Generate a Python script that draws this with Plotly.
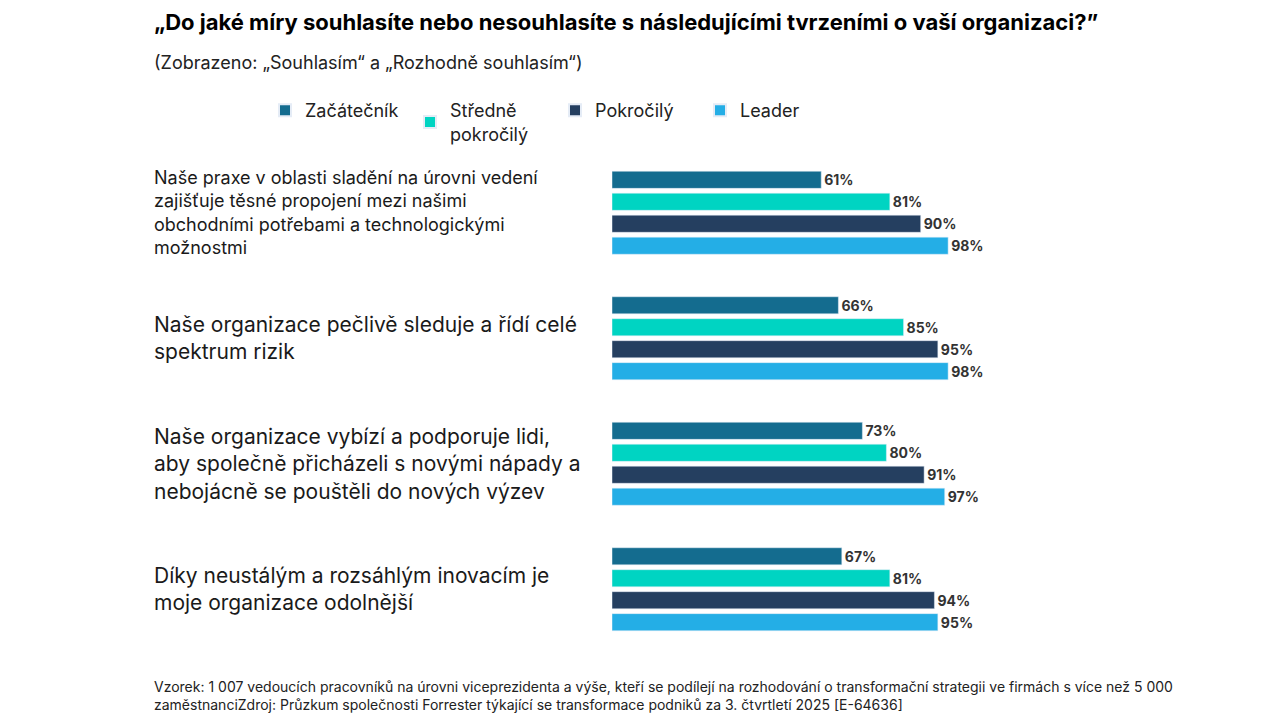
import plotly.graph_objects as go

categories = [
    "Naše praxe v oblasti sladění na úrovni vedení<br>zajišťuje těsné propojení mezi našimi<br>obchodními potřebami a technologickými<br>možnostmi",
    "Naše organizace pečlivě sleduje a řídí celé<br>spektrum rizik",
    "Naše organizace vybízí a podporuje lidi,<br>aby společně přicházeli s novými nápady a<br>nebojácně se pouštěli do nových výzev",
    "Díky neustálým a rozsáhlým inovacím je<br>moje organizace odolnější",
]
label_sizes = [18, 21, 21, 21]
series_names = ["Začátečník", "Středně<br>pokročilý", "Pokročilý", "Leader"]
series_values = [
    [61, 66, 73, 67],
    [81, 85, 80, 81],
    [90, 95, 91, 94],
    [98, 98, 97, 95],
]
colors = ["#146c8f", "#00d4c2", "#253f60", "#24aee6"]

W, H = 1280, 720
OX, OY = 8, 8
cat_ids = ["c0", "c1", "c2", "c3"]
fig = go.Figure()
for name, vals, col in zip(series_names, series_values, colors):
    fig.add_trace(go.Bar(
        y=cat_ids, x=vals, name=name, orientation="h", marker_color=col,
        text=[f"{v}%" for v in vals], textposition="outside", cliponaxis=False,
        textfont=dict(size=14, color="#333333", family="Inter", weight="bold"),
    ))

for cid, txt, fs in zip(cat_ids, categories, label_sizes):
    fig.add_annotation(x=(152 - OX) / W, xref="paper", y=cid, yref="y", text=txt,
                       showarrow=False, xanchor="left", yanchor="middle", align="left",
                       font=dict(size=fs, color="#1a1a1a"))

fig.add_annotation(x=(152 - OX) / W, y=1 - (22 - OY) / H, xref="paper", yref="paper", showarrow=False,
                   xanchor="left", yanchor="middle",
                   text="<b>„Do jaké míry souhlasíte nebo nesouhlasíte s následujícími tvrzeními o vaší organizaci?”</b>",
                   font=dict(size=22, color="#000"))
fig.add_annotation(x=(152 - OX) / W, y=1 - (63 - OY) / H, xref="paper", yref="paper", showarrow=False,
                   xanchor="left", yanchor="middle",
                   text="(Zobrazeno: „Souhlasím“ a „Rozhodně souhlasím“)",
                   font=dict(size=18, color="#222"))
fig.add_annotation(x=(152 - OX) / W, y=1 - (695 - OY) / H, xref="paper", yref="paper", showarrow=False,
                   xanchor="left", yanchor="middle", align="left",
                   text="Vzorek: 1 007 vedoucích pracovníků na úrovni viceprezidenta a výše, kteří se podílejí na rozhodování o transformační strategii ve firmách s více než 5 000<br>zaměstnanciZdroj: Průzkum společnosti Forrester týkající se transformace podniků za 3. čtvrtletí 2025 [E-64636]",
                   font=dict(size=14, color="#222"))

fig.update_layout(
    width=W, height=H, margin=dict(l=0, r=0, t=0, b=0),
    paper_bgcolor="white", plot_bgcolor="white",
    font=dict(family="Inter", color="#222"),
    barmode="group", bargap=0.3, bargroupgap=0.22,
    showlegend=True,
    legend=dict(orientation="h", x=(265 - OX) / W, y=1 - (122 - OY) / H, xanchor="left", yanchor="middle",
                font=dict(size=18, color="#222"), entrywidth=100, traceorder="normal",
                itemsizing="constant"),
    xaxis=dict(range=[0, 100], domain=[(612 - OX) / W, (955 - OX) / W], visible=False),
    yaxis=dict(domain=[1 - (652 - OY) / H, 1 - (150 - OY) / H], autorange="reversed", visible=False,
               categoryorder="array", categoryarray=cat_ids),
)
fig.write_html("out.html")
